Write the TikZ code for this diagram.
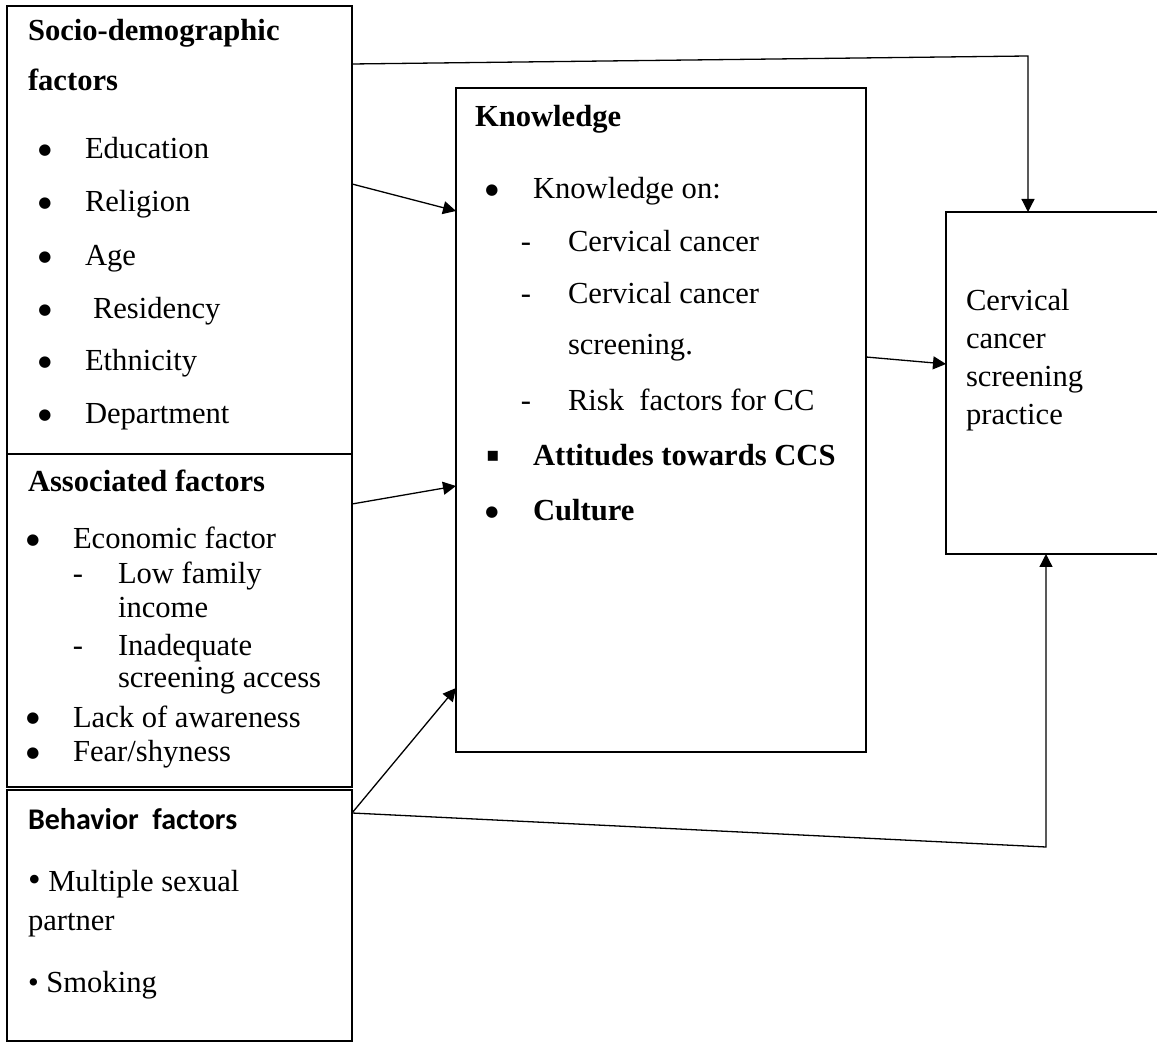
\documentclass[tikz,border=0pt]{standalone}
\usepackage{fontspec}
\setmainfont{Liberation Serif}
\newfontfamily\calib{Carlito}
\newfontfamily\dvs{DejaVu Sans}
\usetikzlibrary{arrows.meta}
\newcommand{\fs}{\fontsize{15.3pt}{18pt}\selectfont}
\tikzset{
  box/.style={draw, line width=0.65pt, inner sep=0pt, outer sep=0pt},
  txt/.style={anchor=base west, inner sep=0pt, outer sep=0pt, font=\fs},
  bul/.style={anchor=center, inner sep=0pt, outer sep=0pt, font=\dvs\fontsize{7.5pt}{8pt}\selectfont, yshift=4pt},
  dsh/.style={anchor=base, inner sep=0pt, outer sep=0pt, font=\fs},
  arr/.style={line width=0.65pt, -{Triangle[length=6.5pt,width=6.5pt]}}
}
\begin{document}
\begin{tikzpicture}[x=0.5pt,y=-0.5pt]
\useasboundingbox (0,0) rectangle (1157,1042);
\clip (0,0) rectangle (1157,1042);
% boxes
\node[box, minimum width=172.5pt, minimum height=224pt] (socio) at (179.5,230) {};
\node[box, minimum width=172.5pt, minimum height=166.5pt] (assoc) at (179.5,620.5) {};
\node[box, minimum width=172.5pt, minimum height=125.5pt] (behav) at (179.5,915.5) {};
\node[box, minimum width=205pt, minimum height=332pt] (know) at (661,420) {};
\node[box, minimum width=112pt, minimum height=171pt] (pract) at (1058,383) {};
% socio-demographic
\node[txt, font=\fs\bfseries] (t1) at (28,41) {Socio-demographic};
\node[txt, font=\fs\bfseries] (t2) at (28,91) {factors};
\node[bul] (b1) at (45,159) {●}; \node[txt] (t3) at (85,159) {Education};
\node[bul] (b2) at (45,212) {●}; \node[txt] (t4) at (85,212) {Religion};
\node[bul] (b3) at (45,266) {●}; \node[txt] (t5) at (85,266) {Age};
\node[bul] (b4) at (45,319) {●}; \node[txt] (t6) at (93,319) {Residency};
\node[bul] (b5) at (45,371) {●}; \node[txt] (t7) at (85,371) {Ethnicity};
\node[bul] (b6) at (45,424) {●}; \node[txt] (t8) at (85,424) {Department};
% associated
\node[txt, font=\fs\bfseries] (a0) at (28,492) {Associated factors};
\node[bul] (ab1) at (33,549) {●}; \node[txt] (a1) at (73,549) {Economic factor};
\node[dsh] (ad1) at (78,584) {-}; \node[txt] (a2) at (118,584) {Low family};
\node[txt] (a3) at (118,618) {income};
\node[dsh] (ad2) at (78,656) {-}; \node[txt] (a4) at (118,656) {Inadequate};
\node[txt] (a5) at (118,688) {screening access};
\node[bul] (ab2) at (33,727) {●}; \node[txt] (a6) at (73,727) {Lack of awareness};
\node[bul] (ab3) at (33,762) {●}; \node[txt] (a7) at (73,762) {Fear/shyness};
% behavior
\node[txt, font=\calib\fontsize{15pt}{18pt}\selectfont\bfseries] (h0) at (28,829) {Behavior\ \ factors};
\node[txt] (h1) at (28,891) {{\fontsize{18pt}{20pt}\selectfont •}\ Multiple sexual};
\node[txt] (h2) at (28,930) {partner};
\node[txt] (h3) at (28,992) {•\ Smoking};
% knowledge
\node[txt, font=\fs\bfseries] (k0) at (475,127) {Knowledge};
\node[bul] (kb1) at (492,199) {●}; \node[txt] (k1t) at (533,199) {Knowledge on:};
\node[dsh] (kd1) at (526,252) {-}; \node[txt] (k2t) at (568,252) {Cervical cancer};
\node[dsh] (kd2) at (526,304) {-}; \node[txt] (k3t) at (568,304) {Cervical cancer};
\node[txt] (k4t) at (568,355) {screening.};
\node[dsh] (kd3) at (526,411) {-}; \node[txt] (k5t) at (568,411) {Risk\ \ factors for CC};
\node[dsh, font=\dvs\fontsize{10pt}{12pt}\selectfont] (kb2) at (493,462) {▪}; \node[txt, font=\fs\bfseries] (k6t) at (533,466) {Attitudes towards CCS};
\node[bul] (kb3) at (492,521) {●}; \node[txt, font=\fs\bfseries] (k7t) at (533,521) {Culture};
% practice
\node[txt] (p1) at (966,311) {Cervical};
\node[txt] (p2) at (966,349) {cancer};
\node[txt] (p3) at (966,387) {screening};
\node[txt] (p4) at (966,425) {practice};
% connector points
\coordinate (s1) at (352,64);
\coordinate (c1) at (1028,56);
\coordinate (s2) at (352,184);
\coordinate (e2) at (456,211);
\coordinate (s3) at (352,504);
\coordinate (e3) at (456,486);
\coordinate (s4) at (352,813);
\coordinate (e4) at (456,688);
\coordinate (c2) at (1046,847);
\coordinate (s5) at (866,357);
\coordinate (e5) at (946,364);
% connectors
\draw[arr] (s1) -- (c1) -- (c1 |- pract.north);
\draw[arr] (s2) -- (e2);
\draw[arr] (s3) -- (e3);
\draw[arr] (s4) -- (e4);
\draw[arr] (s4) -- (c2) -- (c2 |- pract.south);
\draw[arr] (s5) -- (e5);
\end{tikzpicture}
\end{document}
